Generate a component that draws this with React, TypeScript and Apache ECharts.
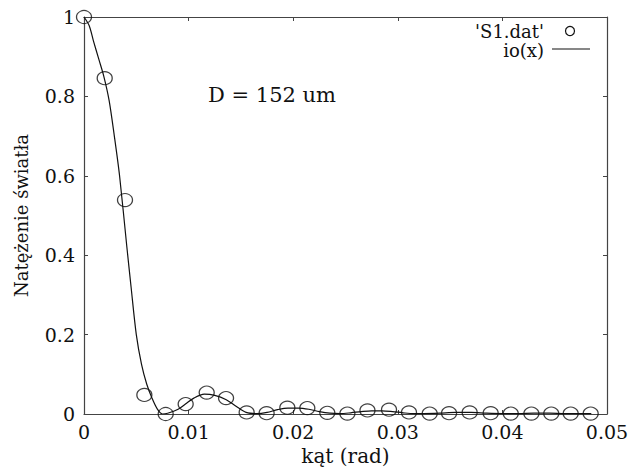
import React, { useEffect, useRef } from "react";
import * as echarts from "echarts";

const xTicks = [0, 0.01, 0.02, 0.03, 0.04, 0.05];
const xTickLabels = ["0", "0.01", "0.02", "0.03", "0.04", "0.05"];
const yTicks = [0, 0.2, 0.4, 0.6, 0.8, 1];
const yTickLabels = ["0", "0.2", "0.4", "0.6", "0.8", "1"];

// measured points 'S1.dat'
const dataX = [
  0, 0.00198, 0.00392, 0.00577, 0.00781, 0.00972, 0.01173, 0.01358, 0.01555,
  0.01746, 0.01944, 0.02135, 0.02326, 0.02518, 0.0271, 0.02916, 0.03107,
  0.03305, 0.0349, 0.03687, 0.03888, 0.0408, 0.04277, 0.04467, 0.04653, 0.04844,
];
const dataY = [
  1, 0.846, 0.539, 0.048, 0, 0.025, 0.054, 0.04, 0.004, 0.002, 0.016, 0.015,
  0.003, 0.001, 0.009, 0.011, 0.004, 0.001, 0.002, 0.004, 0.002, 0.001, 0.001,
  0.001, 0.001, 0.001,
];

// theoretical curve io(x)
const curveX = [
  0, 0.0005, 0.0009, 0.0014, 0.0019, 0.0024, 0.0029, 0.0034, 0.0041, 0.0045,
  0.005, 0.0055, 0.006, 0.0065, 0.007, 0.0075, 0.008, 0.009, 0.0097, 0.0105,
  0.0115, 0.0125, 0.0136, 0.0145, 0.0155, 0.0165, 0.0175, 0.0185, 0.0195,
  0.0205, 0.0215, 0.0225, 0.0235, 0.0245, 0.0255, 0.0265, 0.0275, 0.0285,
  0.0295, 0.0305, 0.0315, 0.0325, 0.034, 0.0355, 0.037, 0.0385, 0.04, 0.0415,
  0.043, 0.0445, 0.046, 0.0475, 0.0485,
];
const curveY = [
  1, 0.978, 0.94, 0.895, 0.85, 0.79, 0.7, 0.6, 0.42, 0.32, 0.2, 0.125, 0.075,
  0.04, 0.013, 0, 0.002, 0.012, 0.025, 0.04, 0.05, 0.047, 0.036, 0.02, 0.004,
  0.001, 0.004, 0.011, 0.015, 0.015, 0.012, 0.006, 0.002, 0.001, 0.003, 0.006,
  0.008, 0.008, 0.006, 0.003, 0.001, 0.001, 0.002, 0.004, 0.004, 0.002, 0.001,
  0.001, 0.002, 0.002, 0.001, 0.001, 0.001,
];

const seriesNames = ["'S1.dat'", "io(x)"];
const xTitle = "kąt (rad)";
const yTitle = "Natężenie światła";
const note = "D = 152 um";

const FONT = "DejaVu Serif";
const AXIS_COLOR = "#444";

function fmt(ticks: number[], labels: string[]) {
  return (v: number) => {
    const i = ticks.findIndex((t) => Math.abs(t - v) < 1e-9);
    return i >= 0 ? labels[i] : "";
  };
}

export default function App() {
  const ref = useRef<HTMLDivElement>(null);
  useEffect(() => {
    const chart = echarts.init(ref.current!, null, { renderer: "svg" });
    const axisLine = {
      show: true,
      onZero: false,
      lineStyle: { color: AXIS_COLOR, width: 1.2 },
    };
    const axisTick = {
      show: true,
      inside: true,
      length: 4,
      lineStyle: { color: AXIS_COLOR, width: 1 },
    };
    chart.setOption({
      animation: false,
      backgroundColor: "#fff",
      grid: { left: 84, top: 17, right: 27, bottom: 60 },
      xAxis: [
        {
          type: "value",
          min: 0,
          max: 0.05,
          interval: 0.01,
          position: "bottom",
          name: xTitle,
          nameLocation: "middle",
          nameGap: 32,
          nameTextStyle: { fontFamily: FONT, fontSize: 20, color: "#111" },
          axisLine,
          axisTick,
          splitLine: { show: false },
          axisLabel: {
            formatter: fmt(xTicks, xTickLabels),
            fontFamily: FONT,
            fontSize: 19,
            color: "#111",
            margin: 8,
          },
        },
        {
          type: "value",
          min: 0,
          max: 0.05,
          interval: 0.01,
          position: "top",
          axisLine,
          axisTick,
          splitLine: { show: false },
          axisLabel: { show: false },
        },
      ],
      yAxis: [
        {
          type: "value",
          min: 0,
          max: 1,
          interval: 0.2,
          position: "left",
          name: yTitle,
          nameLocation: "middle",
          nameGap: 54,
          nameTextStyle: { fontFamily: FONT, fontSize: 18, color: "#111" },
          axisLine,
          axisTick,
          splitLine: { show: false },
          axisLabel: {
            formatter: fmt(yTicks, yTickLabels),
            fontFamily: FONT,
            fontSize: 19,
            color: "#111",
            margin: 9,
          },
        },
        {
          type: "value",
          min: 0,
          max: 1,
          interval: 0.2,
          position: "right",
          axisLine,
          axisTick,
          splitLine: { show: false },
          axisLabel: { show: false },
        },
      ],
      series: [
        {
          name: seriesNames[1],
          type: "line",
          xAxisIndex: 0,
          yAxisIndex: 0,
          data: curveX.map((x, i) => [x, curveY[i]]),
          smooth: 0.3,
          showSymbol: false,
          symbol: "none",
          lineStyle: { color: "#111", width: 1.2 },
          z: 2,
        },
        {
          name: seriesNames[0],
          type: "scatter",
          xAxisIndex: 0,
          yAxisIndex: 0,
          data: dataX.map((x, i) => [x, dataY[i]]),
          symbol: "circle",
          symbolSize: [15, 13],
          clip: false,
          itemStyle: {
            color: "rgba(0,0,0,0)",
            borderColor: "#111",
            borderWidth: 1.2,
          },
          z: 3,
        },
      ],
      graphic: [
        {
          type: "text",
          left: 208,
          top: 84,
          style: {
            text: note,
            fontFamily: FONT,
            fontSize: 21,
            fill: "#111",
          },
        },
        {
          type: "text",
          x: 544,
          y: 31,
          style: {
            text: seriesNames[0],
            fontFamily: FONT,
            fontSize: 18,
            fill: "#111",
            align: "right",
            verticalAlign: "middle",
          },
        },
        {
          type: "circle",
          shape: { cx: 570, cy: 31, r: 4.5 },
          style: { fill: "none", stroke: "#111", lineWidth: 1.2 },
        },
        {
          type: "text",
          x: 544,
          y: 50,
          style: {
            text: seriesNames[1],
            fontFamily: FONT,
            fontSize: 18,
            fill: "#111",
            align: "right",
            verticalAlign: "middle",
          },
        },
        {
          type: "line",
          shape: { x1: 552, y1: 49, x2: 590, y2: 49 },
          style: { stroke: "#111", lineWidth: 1.2 },
        },
      ],
    });
    return () => chart.dispose();
  }, []);
  return (
    <div
      ref={ref}
      style={{
        position: "fixed",
        left: 0,
        top: 0,
        width: 634,
        height: 474,
        background: "#fff",
      }}
    />
  );
}
